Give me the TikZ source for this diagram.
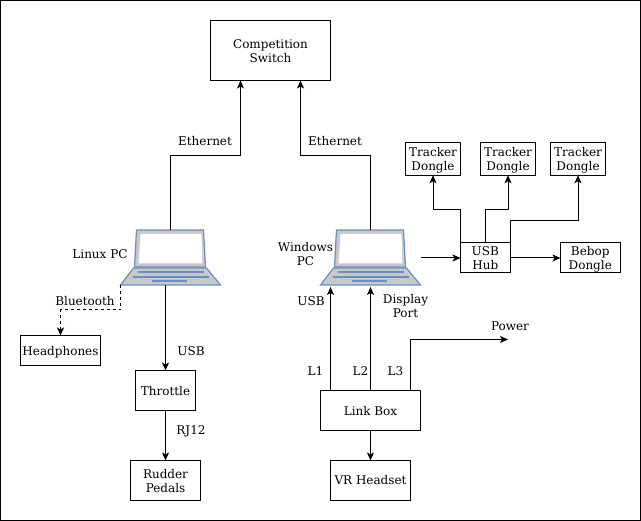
\documentclass[tikz,border=0pt]{standalone}
\usepackage{fontspec}
\setmainfont{DejaVu Serif}
\usetikzlibrary{arrows.meta}
\definecolor{lapblue}{RGB}{108,142,191}
\definecolor{lapgrey}{RGB}{200,200,200}
\tikzset{
	>={Stealth[length=8pt,width=7pt,inset=2pt]},
	box/.style={draw,align=center,inner sep=0pt,outer sep=0pt,font=\fontsize{12}{14}\selectfont},
	dongle/.style={box,minimum width=55pt,minimum height=32.5pt},
	lbl/.style={align=center,inner sep=0pt,font=\fontsize{12}{14}\selectfont},
	spot/.style={inner sep=0pt,outer sep=0pt,minimum width=100pt,minimum height=55pt}
}
% laptop picture, drawn around a named spot
\newcommand{\laptop}[1]{
	\draw[lapblue,line width=1.2pt,fill=lapgrey,shift={(#1)}] (-34,-27.5) -- (33,-27.5) -- (35,9.5) -- (-36,9.5) -- cycle;
	\fill[white,shift={(#1)}] (-30,-23.5) -- (31,-23.5) -- (32,5.8) -- (-32,5.8) -- cycle;
	\draw[lapblue,line width=1.2pt,fill=lapgrey,shift={(#1)}] (-37,10.5) -- (36,10.5) -- (50,27.5) -- (-50,27.5) -- cycle;
	\draw[lapblue,line width=1.2pt,shift={(#1)}] (-33,14.5) -- (33,14.5) (-38,19.5) -- (38,19.5) (-19,23.5) -- (16,23.5);
}
\newcommand{\trackertext}{\rule{0pt}{12pt}Tracker\\Dongle}
\newcommand{\lift}{\rule{0pt}{11pt}}
\begin{document}
\begin{tikzpicture}[x=1pt,y=-1pt,line width=1pt]
	\useasboundingbox (0,0) rectangle (641,521);
	\draw (0.5,0.5) rectangle (640.5,520.5);
	% boxes
	\draw (270.5,50.5) node [box,minimum width=120pt,minimum height=60pt] (sw) {\lift Competition\\Switch};
	\draw (60.5,350.5) node [box,minimum width=80pt,minimum height=30pt] (hp) {\rule{0pt}{12.5pt}Headphones};
	\draw (165.5,390.5) node [box,minimum width=60pt,minimum height=40pt] (th) {\lift Throttle};
	\draw (165.5,480.5) node [box,minimum width=70pt,minimum height=40pt] (rp) {\lift Rudder\\Pedals};
	\draw (370.5,410.5) node [box,minimum width=100pt,minimum height=40pt] (lb) {\lift Link Box};
	\draw (370.5,480.5) node [box,minimum width=80pt,minimum height=40pt] (vr) {VR Headset};
	\draw (433,159) node [dongle] (t1) {\trackertext};
	\draw (508,159) node [dongle] (t2) {\trackertext};
	\draw (578,159) node [dongle] (t3) {\trackertext};
	\draw (485.25,258) node [box,minimum width=49.5pt,minimum height=30pt] (hub) {USB\\Hub};
	\draw (590.25,258) node [box,minimum width=59.5pt,minimum height=30pt] (bb) {\lift Bebop\\Dongle};
	% laptops
	\draw (170.5,257.5) node [spot] (lin) {};
	\draw (370.5,257.5) node [spot] (win) {};
	\laptop{lin}
	\laptop{win}
	% free ends
	\coordinate (pw) at (508,339.5);
	\coordinate (e1b) at (240.5,155.5);
	\coordinate (e2b) at (300.5,155.5);
	\coordinate (h1) at (433,209.5);
	\coordinate (h2) at (508,209.5);
	\coordinate (h3) at (578,220.5);
	\coordinate (bt) at (60.5,310);
	\coordinate (sw1) at (240.5,80.5);
	\coordinate (sw2) at (300.5,80.5);
	\coordinate (usbin) at (330.5,287);
	\coordinate (dpin) at (370.5,287);
	\coordinate (l1out) at (330.5,390.5);
	\coordinate (l3out) at (410.5,390.5);
	% connectors
	\draw[->] (lin.north) |- (e1b) -- (sw1);
	\draw[->] (win.north) |- (e2b) -- (sw2);
	\draw[->] (lin.south -| th.north) -- (th.north);
	\draw[->] (th.south) -- (rp.north);
	\draw[->,dashed] (lin.south west) |- (bt) -- (hp.north);
	\draw[->] (l1out) -- (usbin);
	\draw[->] (lb.north) -- (dpin);
	\draw[->] (l3out) |- (pw);
	\draw[->] (lb.south) -- (vr.north);
	\draw[->] (win.east |- hub.west) -- (hub.west);
	\draw[->] (hub.east) -- (bb.west);
	\draw[->] (hub.north west) |- (h1) -- (t1.south);
	\draw[->] (hub.north) |- (h2) -- (t2.south);
	\draw[->] (hub.north east) |- (h3) -- (t3.south);
	% labels
	\draw (205,141) node [lbl] (e1) {Ethernet};
	\draw (335,141) node [lbl] (e2) {Ethernet};
	\draw (100,254) node [lbl] (l1) {Linux PC};
	\draw (305.5,254) node [lbl] (l2) {Windows\\PC};
	\draw (85,301) node [lbl] (l3) {Bluetooth};
	\draw (191,351) node [lbl] (l4) {USB};
	\draw (191,431.5) node [lbl] (l5) {RJ12};
	\draw (311,301) node [lbl] (l6) {USB};
	\draw (405.5,306) node [lbl] (l7) {Display\\Port};
	\draw (315.5,371) node [lbl] (l8) {L1};
	\draw (360.5,371) node [lbl] (l9) {L2};
	\draw (395.5,371) node [lbl] (l10) {L3};
	\draw (510,326) node [lbl] (l11) {Power};
\end{tikzpicture}
\end{document}
